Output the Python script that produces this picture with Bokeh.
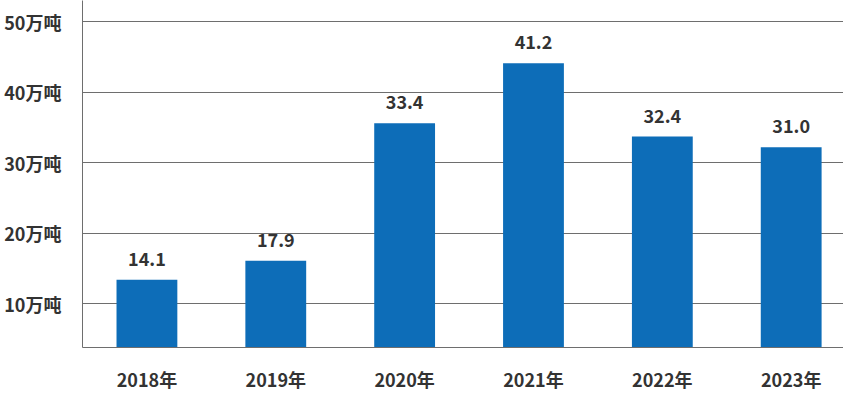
from bokeh.plotting import figure
from bokeh.models import ColumnDataSource, Range1d, FixedTicker
from bokeh.core.properties import value
from bokeh.embed import file_html
from bokeh.resources import INLINE

years = ["2018年", "2019年", "2020年", "2021年", "2022年", "2023年"]
bar_values = [13.4, 16.1, 35.6, 44.1, 33.7, 32.2]
value_labels = ["14.1", "17.9", "33.4", "41.2", "32.4", "31.0"]
y_ticks = [10, 20, 30, 40, 50]
y_tick_labels = ["10万吨", "20万吨", "30万吨", "40万吨", "50万吨"]

FONT = "Noto Sans CJK SC"
TEXT_COLOR = "#333333"
BAR_COLOR = "#0D6DB8"
LINE_COLOR = "#6E6E6E"

xs = list(range(len(years)))
src = ColumnDataSource(dict(x=xs, top=bar_values, label=value_labels))

p = figure(width=843, height=394, output_backend="svg", toolbar_location=None,
           x_range=Range1d(-0.5, 5.406), y_range=Range1d(3.8, 53.0),
           min_border_left=82, min_border_right=0, min_border_top=0, min_border_bottom=47)
p.outline_line_color = None
p.background_fill_color = "white"

p.vbar(x="x", top="top", bottom=3.8, width=0.472, source=src, color=BAR_COLOR, line_color=None)
p.text(x="x", y="top", text="label", source=src, text_align="center", text_baseline="bottom",
       y_offset=-14, text_font=value(FONT), text_font_style="bold", text_font_size="18px",
       text_color=TEXT_COLOR)

p.xgrid.visible = False
p.ygrid.ticker = FixedTicker(ticks=y_ticks)
p.ygrid.grid_line_color = LINE_COLOR
p.ygrid.grid_line_width = 1

p.yaxis.ticker = FixedTicker(ticks=y_ticks)
p.yaxis.major_label_overrides = {t: l for t, l in zip(y_ticks, y_tick_labels)}
p.xaxis.ticker = FixedTicker(ticks=xs)
p.xaxis.major_label_overrides = {i: y for i, y in enumerate(years)}

for ax in (p.xaxis, p.yaxis):
    ax.major_tick_line_color = None
    ax.minor_tick_line_color = None
    ax.axis_line_color = LINE_COLOR
    ax.axis_line_width = 1
    ax.major_label_text_font = FONT
    ax.major_label_text_font_style = "bold"
    ax.major_label_text_font_size = "18px"
    ax.major_label_text_color = TEXT_COLOR
p.yaxis.major_label_standoff = 15
p.xaxis.major_label_standoff = 12

open("out.html", "w").write(file_html(p, INLINE))
